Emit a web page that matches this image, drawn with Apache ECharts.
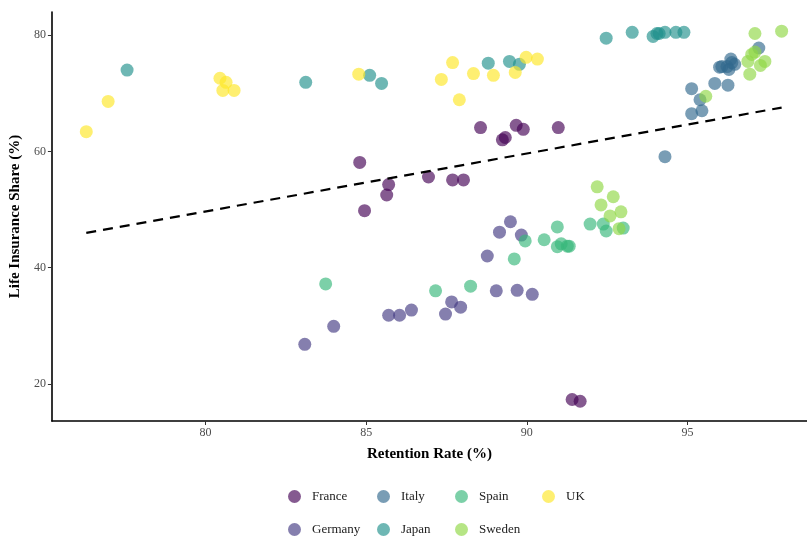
<!DOCTYPE html>
<html>
<head>
<meta charset="utf-8">
<script src="https://cdn.jsdelivr.net/npm/echarts@6/dist/echarts.min.js"></script>
<style>
  html, body { margin: 0; padding: 0; background: #fff; }
  #main { width: 807px; height: 536px; }
</style>
</head>
<body>
<div id="main"></div>
<script>
 var myChart = echarts.init(document.getElementById('main'));

 var countries = ['France', 'Germany', 'Italy', 'Japan', 'Spain', 'Sweden', 'UK'];
 var colors = ['#440154', '#443A83', '#31688E', '#21908C', '#35B779', '#8FD744', '#FDE725'];

 // retention rate (x) / life insurance share (y), per country
 var franceX = [84.80, 85.70, 85.64, 84.95, 86.94, 87.69, 88.03, 88.56, 89.24, 89.33, 89.67, 89.89, 90.98, 91.41, 91.66];
 var franceY = [58.1, 54.3, 52.5, 49.8, 55.6, 55.1, 55.1, 64.1, 62.0, 62.4, 64.5, 63.8, 64.1, 17.3, 17.0];
 var germanyX = [89.15, 89.49, 89.83, 88.77, 89.05, 89.70, 90.17, 87.66, 87.94, 87.47, 83.09, 83.99, 85.70, 86.04, 86.41];
 var germanyY = [46.1, 47.9, 45.6, 42.0, 36.0, 36.1, 35.4, 34.1, 33.2, 32.0, 26.8, 29.9, 31.8, 31.8, 32.7];
 var italyX = [95.13, 95.39, 95.13, 95.45, 95.85, 96.26, 96.00, 96.23, 96.35, 96.29, 96.47, 96.07, 97.22, 94.30, 96.38];
 var italyY = [70.8, 68.9, 66.5, 67.0, 71.7, 71.4, 74.5, 74.6, 75.9, 74.1, 75.0, 74.6, 77.8, 59.1, 75.3];
 var japanX = [77.56, 83.12, 85.11, 85.48, 88.80, 89.46, 89.77, 92.47, 93.28, 93.93, 94.05, 94.12, 94.30, 94.64, 94.89];
 var japanY = [74.0, 71.9, 73.1, 71.7, 75.2, 75.5, 75.0, 79.5, 80.5, 79.8, 80.3, 80.3, 80.5, 80.5, 80.5];
 var spainX = [87.16, 88.25, 89.61, 89.95, 90.54, 90.95, 90.95, 91.07, 91.26, 91.32, 91.97, 92.38, 92.47, 93.00, 83.74];
 var spainY = [36.0, 36.8, 41.5, 44.6, 44.8, 47.0, 43.6, 44.1, 43.7, 43.7, 47.5, 47.5, 46.3, 46.8, 37.2];
 var swedenX = [97.10, 97.93, 97.00, 96.88, 97.27, 97.41, 96.94, 97.10, 95.57, 92.19, 92.31, 92.69, 92.93, 92.59, 92.87];
 var swedenY = [80.3, 80.7, 76.7, 75.5, 74.8, 75.5, 73.3, 77.1, 69.5, 53.9, 50.8, 52.2, 49.6, 48.9, 46.7];
 var ukX = [76.29, 76.97, 80.45, 80.64, 80.54, 80.89, 84.77, 87.69, 87.34, 88.34, 88.96, 87.90, 89.64, 89.98, 90.33];
 var ukY = [63.4, 68.6, 72.6, 71.9, 70.5, 70.5, 73.3, 75.3, 72.4, 73.4, 73.1, 68.9, 73.6, 76.2, 75.9];

 // fitted trend line endpoints
 var trendX = [76.29, 97.93];
 var trendY = [45.97, 67.55];

 var xTicks = [80, 85, 90, 95];
 var yTicks = [20, 40, 60, 80];

 var allX = [franceX, germanyX, italyX, japanX, spainX, swedenX, ukX];
 var allY = [franceY, germanyY, italyY, japanY, spainY, swedenY, ukY];

 function pairs(xs, ys) {
     return xs.map(function (v, i) { return [v, ys[i]]; });
 }

 var font = 'Liberation Serif, Times New Roman, serif';

 var series = countries.map(function (name, i) {
     return {
         name: name,
         type: 'scatter',
         symbolSize: 13,
         itemStyle: { color: colors[i], opacity: 0.65 },
         emphasis: { disabled: true },
         data: pairs(allX[i], allY[i])
     };
 });
 series.push({
     name: 'trend',
     type: 'line',
     symbol: 'none',
     silent: true,
     z: 3,
     lineStyle: { color: '#000', width: 2.2, type: [10, 7] },
     data: pairs(trendX, trendY)
 });

 // legend laid out in columns: France/Germany, Italy/Japan, Spain/Sweden, UK
 var legendCols = [['France', 'Germany'], ['Italy', 'Japan'], ['Spain', 'Sweden'], ['UK']];
 var legendLeft = [288, 377, 455, 542];
 var legends = legendCols.map(function (col, i) {
     return {
         data: col,
         orient: 'vertical',
         left: legendLeft[i],
         top: 490,
         height: 60,
         padding: 0,
         itemWidth: 13,
         itemHeight: 13,
         itemGap: 20,
         icon: 'circle',
         selectedMode: false,
         itemStyle: { opacity: 0.65 },
         textStyle: { fontFamily: font, fontSize: 13, color: '#222', padding: [0, 0, 0, 6] }
     };
 });

 var option = {
     backgroundColor: '#fff',
     animation: false,
     grid: { left: 51, right: 0, top: 12, bottom: 115 },
     legend: legends,
     xAxis: {
         type: 'value',
         min: 75.22,
         max: 98.72,
         interval: 5,
         name: 'Retention Rate (%)',
         nameLocation: 'middle',
         nameGap: 26,
         nameTextStyle: { fontFamily: font, fontSize: 15, fontWeight: 'bold', color: '#000' },
         axisLine: { show: true, lineStyle: { color: '#000', width: 1.6 } },
         axisTick: { show: true, length: 4, lineStyle: { color: '#333' },
             customValues: xTicks },
         axisLabel: { fontFamily: font, fontSize: 12, color: '#4d4d4d', margin: 6,
             customValues: xTicks },
         splitLine: { show: false }
     },
     yAxis: {
         type: 'value',
         min: 13.6,
         max: 84.0,
         name: 'Life Insurance Share (%)',
         nameLocation: 'middle',
         nameGap: 22,
         nameTextStyle: { fontFamily: font, fontSize: 15, fontWeight: 'bold', color: '#000' },
         axisLine: { show: true, lineStyle: { color: '#000', width: 1.6 } },
         axisTick: { show: true, length: 4, lineStyle: { color: '#333' },
             customValues: yTicks },
         axisLabel: { fontFamily: font, fontSize: 12, color: '#4d4d4d', margin: 6,
             customValues: yTicks },
         splitLine: { show: false }
     },
     series: series
 };

 myChart.setOption(option);
</script>
</body>
</html>
